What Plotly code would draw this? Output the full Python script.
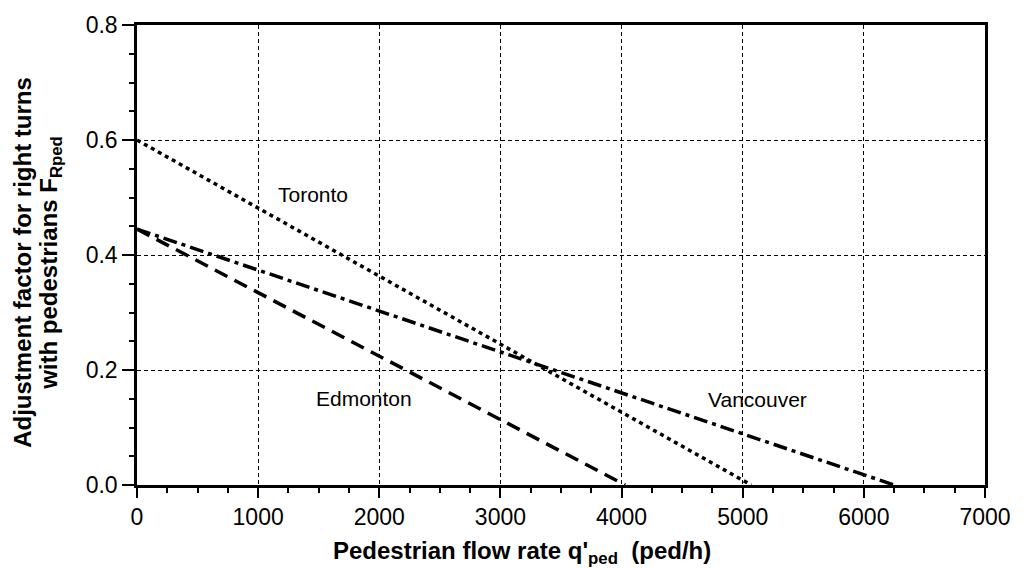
import plotly.graph_objects as go

# Data
toronto_x = [0, 5070]
toronto_y = [0.60, 0.0]
edmonton_x = [0, 4030]
edmonton_y = [0.445, 0.0]
vancouver_x = [0, 6250]
vancouver_y = [0.445, 0.0]

labels = ["Toronto", "Edmonton", "Vancouver"]
label_x = [1450, 1870, 5120]
label_y = [0.505, 0.15, 0.148]

x_ticks = [0, 1000, 2000, 3000, 4000, 5000, 6000, 7000]
y_ticks = [0.0, 0.2, 0.4, 0.6, 0.8]

x_title = "<b>Pedestrian flow rate q'<sub>ped</sub>  (ped/h)</b>"
y_title_1 = "<b>Adjustment factor for right turns</b>"
y_title_2 = "<b>with pedestrians F<sub>Rped</sub></b>"

FONT = "Liberation Sans"

fig = go.Figure()
fig.add_trace(go.Scatter(x=toronto_x, y=toronto_y, mode="lines",
                         line=dict(color="black", width=3.5, dash="4px,4px"), name="Toronto"))
fig.add_trace(go.Scatter(x=edmonton_x, y=edmonton_y, mode="lines",
                         line=dict(color="black", width=3.5, dash="14px,8px"), name="Edmonton"))
fig.add_trace(go.Scatter(x=vancouver_x, y=vancouver_y, mode="lines",
                         line=dict(color="black", width=3.5, dash="14px,5px,4px,5px"), name="Vancouver"))

for t, x, y in zip(labels, label_x, label_y):
    fig.add_annotation(x=x, y=y, text=t, showarrow=False,
                       font=dict(family=FONT, size=21, color="black"))

# axis titles
fig.add_annotation(xref="paper", yref="paper", x=0.454, y=0, yanchor="middle", xanchor="center",
                   yshift=-67, text=x_title, showarrow=False,
                   font=dict(family=FONT, size=24, color="black"))
fig.add_annotation(xref="paper", yref="paper", x=0, y=0.483, xanchor="center", yanchor="middle",
                   xshift=-114, text=y_title_1, showarrow=False, textangle=-90,
                   font=dict(family=FONT, size=24, color="black"))
fig.add_annotation(xref="paper", yref="paper", x=0, y=0.483, xanchor="center", yanchor="middle",
                   xshift=-86, text=y_title_2, showarrow=False, textangle=-90,
                   font=dict(family=FONT, size=24, color="black"))

fig.update_layout(
    width=1023, height=568,
    margin=dict(l=137, r=34, t=22, b=83),
    plot_bgcolor="white", paper_bgcolor="white",
    showlegend=False,
    font=dict(family=FONT, color="black"),
)

fig.update_xaxes(
    range=[0, 7000], tickvals=x_ticks, ticktext=[str(v) for v in x_ticks],
    tickfont=dict(family=FONT, size=23),
    showline=True, linecolor="black", linewidth=2.5, mirror=True,
    ticks="outside", ticklen=10, tickwidth=2, tickcolor="black",
    minor=dict(dtick=250, ticks="outside", ticklen=5, tickwidth=2, tickcolor="black", showgrid=False),
    showgrid=True, gridcolor="black", gridwidth=1, griddash="4px,3px",
    zeroline=False,
)
fig.update_yaxes(
    range=[0, 0.8], tickvals=y_ticks, ticktext=["0.0", "0.2", "0.4", "0.6", "0.8"],
    tickfont=dict(family=FONT, size=23),
    showline=True, linecolor="black", linewidth=2.5, mirror=True,
    ticks="outside", ticklen=12, tickwidth=2, tickcolor="black",
    minor=dict(dtick=0.05, ticks="outside", ticklen=5, tickwidth=2, tickcolor="black", showgrid=False),
    showgrid=True, gridcolor="black", gridwidth=1, griddash="4px,3px",
    zeroline=False,
)

fig.write_html("out.html", config={"displayModeBar": False},
               post_script="document.body.style.margin='0';")
